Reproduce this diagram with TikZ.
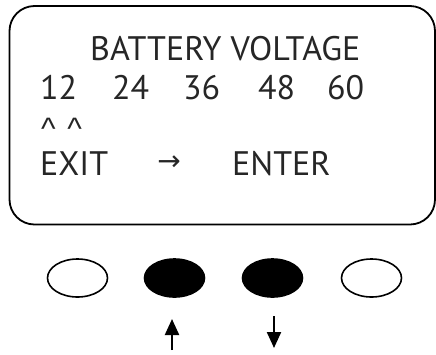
\documentclass[tikz,border=0pt]{standalone}
\usepackage{fontspec}
\setmainfont{PT Sans}
\newfontfamily\arrowfont{DejaVu Sans}
\newfontfamily\caretfont{Liberation Sans}
\usetikzlibrary{shapes.geometric,arrows.meta}
\tikzset{
  lcd/.style={font=\fontsize{34}{40}\selectfont, anchor=base west, inner sep=0pt, text=black!85},
  btn/.style={ellipse, draw, line width=1.6pt, minimum width=60pt, minimum height=38pt, inner sep=0pt},
  btnon/.style={btn, fill=black},
  key/.style={-{Triangle[length=16pt,width=14pt]}, line width=2.2pt}
}
\begin{document}
\begin{tikzpicture}[x=1pt,y=-1pt]
\useasboundingbox (0,0) rectangle (436,354);
\draw[line width=1.8pt, rounded corners=25pt] (9.5,6) rectangle (435,224.5);
\node[lcd] (title) at (90,60) {BATTERY VOLTAGE};
\node[lcd] (v12) at (40,99) {12};
\node[lcd] (v24) at (112,99) {24};
\node[lcd] (v36) at (183,99) {36};
\node[lcd] (v48) at (258,99) {48};
\node[lcd] (v60) at (327,99) {60};
\node[lcd, font=\caretfont\fontsize{31}{33}\selectfont] (car) at (41,139) {\textasciicircum\ \hspace{3pt}\textasciicircum};
\node[lcd] (exit) at (40,175) {EXIT};
\node[lcd, anchor=center] (arr) at (169,163) {\arrowfont\fontsize{28}{30}\selectfont →};
\node[lcd] (enter) at (232,175) {ENTER};
\node[btn] (b1) at (77.5,278) {};
\node[btnon] (b2) at (174.5,278) {};
\node[btnon] (b3) at (272.5,278) {};
\node[btn] (b4) at (371.5,278) {};
\coordinate (ua) at (172,350);
\coordinate (ub) at (172,319);
\coordinate (da) at (274,316);
\coordinate (db) at (274,348);
\draw[key] (ua) -- (ub);
\draw[key] (da) -- (db);
\end{tikzpicture}
\end{document}
